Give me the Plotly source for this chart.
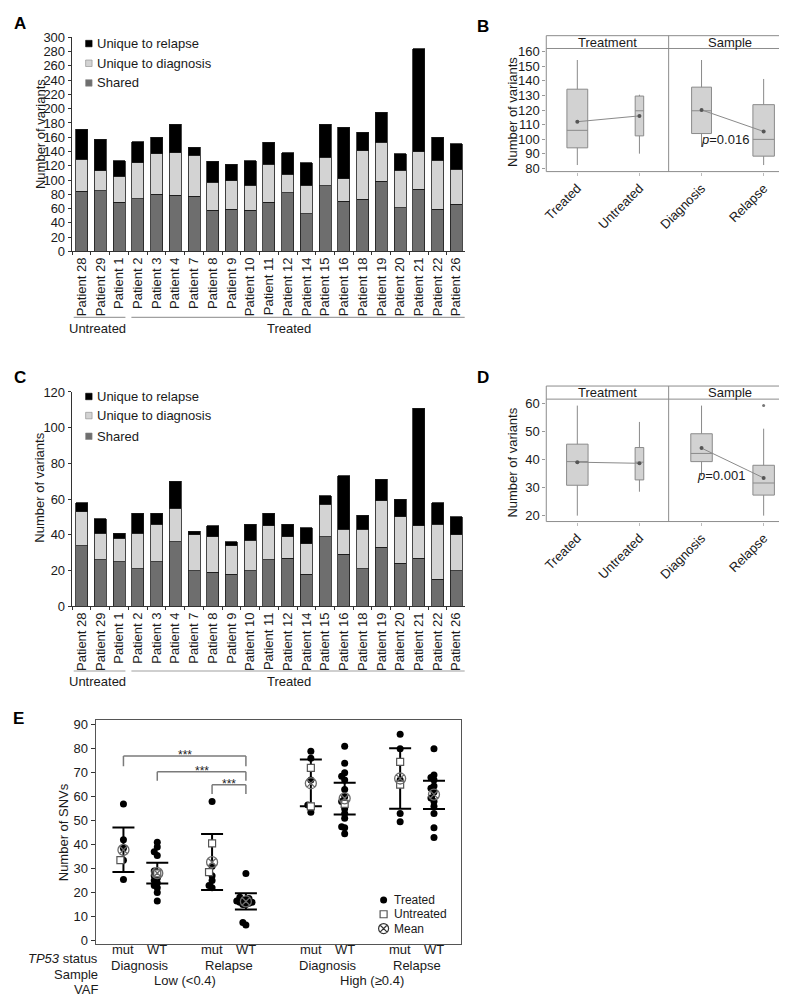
import plotly.graph_objects as go

# ---------------- DATA ----------------
patients = ["Patient 28", "Patient 29", "Patient 1", "Patient 2", "Patient 3", "Patient 4",
            "Patient 7", "Patient 8", "Patient 9", "Patient 10", "Patient 11", "Patient 12",
            "Patient 14", "Patient 15", "Patient 16", "Patient 18", "Patient 19", "Patient 20",
            "Patient 21", "Patient 22", "Patient 26"]
n_untreated = 3
series_names = ["Shared", "Unique to diagnosis", "Unique to relapse"]

a_shared = [84, 85, 69, 74, 80, 79, 77, 58, 59, 58, 69, 82, 53, 92, 70, 73, 98, 61, 87, 59, 66]
a_diag = [45, 28, 36, 50, 57, 59, 58, 39, 40, 35, 53, 26, 40, 40, 32, 68, 55, 53, 53, 69, 49]
a_relapse = [42, 44, 22, 30, 23, 40, 11, 29, 23, 34, 31, 30, 31, 46, 72, 26, 42, 23, 144, 32, 36]

c_shared = [34, 26, 25, 21, 25, 36, 20, 19, 18, 20, 26, 27, 18, 39, 29, 21, 33, 24, 27, 15, 20]
c_diag = [19, 15, 13, 20, 21, 19, 20, 20, 16, 17, 19, 12, 17, 18, 14, 22, 26, 26, 18, 31, 20]
c_relapse = [5, 8, 3, 11, 6, 15, 2, 6, 2, 9, 7, 7, 9, 5, 30, 8, 12, 10, 66, 12, 10]

box_groups = ["Treated", "Untreated", "Diagnosis", "Relapse"]
facets = ["Treatment", "Sample"]

b_q1 = [94.1, 102.3, 103.9, 88.4]
b_med = [106.1, 119.5, 119.5, 99.9]
b_q3 = [134.3, 129.6, 135.7, 123.7]
b_lo = [82.3, 90.1, 94.7, 82.3]
b_hi = [154.3, 130.5, 154.3, 141.3]
b_mean = [112.0, 116.0, 120.1, 105.3]
b_p = "0.016"

d_q1 = [30.8, 32.7, 39.2, 27.3]
d_med = [39.2, 39.0, 42.1, 31.6]
d_q3 = [45.4, 44.2, 49.1, 37.9]
d_lo = [20.0, 28.5, 34.0, 20.0]
d_hi = [59.1, 53.3, 59.1, 50.9]
d_mean = [39.0, 38.6, 44.0, 33.4]
d_outlier_group = ["Relapse"]
d_outlier_val = [59.1]
d_p = "0.001"

e_tp53 = ["mut", "WT", "mut", "WT", "mut", "WT", "mut", "WT"]
e_sample = ["Diagnosis", "Relapse", "Diagnosis", "Relapse"]
e_vaf = ["Low (&lt;0.4)", "High (≥0.4)"]
e_treated = [
    [57, 42, 38.5, 33.5, 25.5],
    [41, 39, 37, 35.5, 29, 27, 26, 25, 24, 23, 22, 20, 16.5],
    [58, 31, 27, 25, 23, 22],
    [28, 18, 17.5, 17, 17, 16.5, 16, 16, 15.5, 15, 15, 7.5, 6.5],
    [79, 76, 67, 56.5, 53.5],
    [81, 74, 70, 68.5, 67, 63, 60, 58, 55, 53, 51, 47.5, 47, 44.5],
    [86, 80, 67, 53, 49.5],
    [80, 69, 68, 67, 64.5, 63.5, 62, 59.5, 58, 56, 53, 47, 43],
]
e_untreated = [[33.5], [28], [40.5, 28.5], [], [72, 56], [57], [74.5, 65], []]
e_mean = [37.8, 28.1, 32.7, 16.3, 65.6, 59.3, 67.6, 60.9]
e_err_hi = [47.1, 32.4, 44.4, 19.7, 75.5, 65.8, 80.2, 66.7]
e_err_lo = [28.6, 23.8, 21.1, 12.9, 56.0, 52.6, 55.0, 54.9]
e_legend = ["Treated", "Untreated", "Mean"]

# ---------------- LAYOUT HELPERS ----------------
W, H = 787, 997
FONT = "Liberation Sans, Arial, sans-serif"
TXT = "#1a1a1a"
SHARED_C, DIAG_C, REL_C = "#6e6e6e", "#d3d3d3", "#000000"
colors = [SHARED_C, DIAG_C, REL_C]


def px(p):
    return p / W


def py(p):
    return 1 - p / H


def xd(a, b):
    return [a / W, b / W]


def yd(top, bottom):
    return [1 - bottom / H, 1 - top / H]


# E axis geometry
E_X0, E_X1 = 84, 451
E_Y0, E_Y1 = 716, 943.3
E_XR = [-0.824, 9.97]
E_YR = [-1.5, 91.9]
e_pos = [0, 1, 2.62, 3.62, 5.54, 6.54, 8.18, 9.18]


def ex(p):
    return E_XR[0] + (p - E_X0) / (E_X1 - E_X0) * (E_XR[1] - E_XR[0])


def ey(p):
    return E_YR[0] + (E_Y1 - p) / (E_Y1 - E_Y0) * (E_YR[1] - E_YR[0])


def dodge(vals, thr=1.7, step=0.09):
    order = sorted(range(len(vals)), key=lambda i: vals[i])
    offs = [0.0] * len(vals)
    placed = []
    cands = [0, -1, 1, -2, 2, -3, 3]
    for i in order:
        used = {offs[j] for j in placed if abs(vals[j] - vals[i]) < thr}
        for c in cands:
            if c * step not in used:
                offs[i] = c * step
                break
        placed.append(i)
    return offs


fig = go.Figure()

# ---------------- A & C stacked bars ----------------
for ax, ay, data in [("x", "y", [a_shared, a_diag, a_relapse]),
                     ("x2", "y2", [c_shared, c_diag, c_relapse])]:
    for name, vals, col in zip(series_names, data, colors):
        fig.add_trace(go.Bar(x=patients, y=vals, name=name, xaxis=ax, yaxis=ay,
                             marker=dict(color=col, line=dict(color="#1a1a1a", width=0.8)),
                             showlegend=False))

# ---------------- B & D boxes ----------------
b_w = [0.335, 0.137, 0.32, 0.346]
d_w = [0.346, 0.139, 0.346, 0.346]
for ax, ay, q1, med, q3, lo, hi, mean, wid in [
        ("x3", "y3", b_q1, b_med, b_q3, b_lo, b_hi, b_mean, b_w),
        ("x4", "y4", d_q1, d_med, d_q3, d_lo, d_hi, d_mean, d_w)]:
    for i, g in enumerate(box_groups):
        fig.add_trace(go.Box(x=[g], q1=[q1[i]], median=[med[i]], q3=[q3[i]],
                             lowerfence=[lo[i]], upperfence=[hi[i]], orientation="v",
                             width=wid[i], whiskerwidth=0, boxpoints=False,
                             fillcolor="#d2d2d2", line=dict(color="#8a8a8a", width=1),
                             xaxis=ax, yaxis=ay, showlegend=False, hoverinfo="skip"))
    for k in (0, 2):
        fig.add_trace(go.Scatter(x=box_groups[k:k + 2], y=mean[k:k + 2], mode="lines+markers",
                                 line=dict(color="#8a8a8a", width=1),
                                 marker=dict(size=4, color="#555"),
                                 xaxis=ax, yaxis=ay, showlegend=False))
fig.add_trace(go.Scatter(x=d_outlier_group, y=d_outlier_val, mode="markers",
                         marker=dict(size=3, color="#777"), xaxis="x4", yaxis="y4",
                         showlegend=False))

# ---------------- E scatter ----------------
fig.add_trace(go.Scatter(
    x=e_pos, y=e_mean, mode="markers", marker=dict(size=1, opacity=0),
    error_y=dict(type="data", symmetric=False,
                 array=[h - m for h, m in zip(e_err_hi, e_mean)],
                 arrayminus=[m - l for l, m in zip(e_err_lo, e_mean)],
                 color="#000", thickness=2, width=11),
    xaxis="x5", yaxis="y5", showlegend=False))

tx, ty, ux, uy = [], [], [], []
for i in range(8):
    vals = e_treated[i] + e_untreated[i]
    offs = dodge(vals)
    nt = len(e_treated[i])
    for j, v in enumerate(vals):
        if j < nt:
            tx.append(e_pos[i] + offs[j]); ty.append(v)
        else:
            ux.append(e_pos[i] + offs[j]); uy.append(v)
fig.add_trace(go.Scatter(x=tx, y=ty, mode="markers", marker=dict(size=7, color="#000"),
                         xaxis="x5", yaxis="y5", showlegend=False))
fig.add_trace(go.Scatter(x=ux, y=uy, mode="markers",
                         marker=dict(symbol="square", size=7, color="white",
                                     line=dict(color="#555", width=1.2)),
                         xaxis="x5", yaxis="y5", showlegend=False))
fig.add_trace(go.Scatter(x=e_pos, y=e_mean, mode="markers",
                         marker=dict(symbol="circle-x-open", size=11, color="#6b6b6b",
                                     line=dict(width=1.3)),
                         xaxis="x5", yaxis="y5", showlegend=False))
# E legend markers
leg_y = [898.5, 913.0, 927.5]
fig.add_trace(go.Scatter(x=[ex(373.5)], y=[ey(leg_y[0])], mode="markers",
                         marker=dict(size=7, color="#000"), xaxis="x5", yaxis="y5", showlegend=False))
fig.add_trace(go.Scatter(x=[ex(373.5)], y=[ey(leg_y[1])], mode="markers",
                         marker=dict(symbol="square", size=7, color="white",
                                     line=dict(color="#555", width=1.2)),
                         xaxis="x5", yaxis="y5", showlegend=False))
fig.add_trace(go.Scatter(x=[ex(373.5)], y=[ey(leg_y[2])], mode="markers",
                         marker=dict(symbol="circle-x-open", size=10, color="#333",
                                     line=dict(width=1.2)),
                         xaxis="x5", yaxis="y5", showlegend=False))

# ---------------- axes ----------------
tf = dict(family=FONT, size=13, color=TXT)
bar_x = dict(type="category", range=[-0.53, 20.45], tickangle=-90, ticks="outside", ticklen=3,
             tickson="boundaries", showline=True, linecolor="#333", linewidth=1,
             tickcolor="#333", tickfont=tf, showgrid=False, zeroline=False)
bar_y = dict(ticks="outside", ticklen=3, showline=True, linecolor="#333", linewidth=1,
             tickcolor="#333", tickfont=tf, showgrid=False, zeroline=False, dtick=20)
box_x = dict(type="category", categoryorder="array", categoryarray=box_groups,
             range=[-0.5, 3.5], tickangle=-45, ticks="outside", ticklen=3, tickcolor="#bbb",
             showline=False, tickfont=tf, showgrid=False, zeroline=False)
box_y = dict(ticks="outside", ticklen=3, tickcolor="#999", showline=False, tickfont=tf,
             showgrid=False, zeroline=False, dtick=10)

fig.update_layout(
    width=W, height=H, margin=dict(l=0, r=0, t=0, b=0),
    paper_bgcolor="white", plot_bgcolor="white",
    barmode="stack", bargap=0.36, boxmode="overlay",
    font=dict(family=FONT, size=13, color=TXT),
    xaxis=dict(bar_x, domain=xd(60, 455), anchor="y"),
    yaxis=dict(bar_y, domain=yd(22.7, 240), anchor="x", range=[0, 300]),
    xaxis2=dict(bar_x, domain=xd(60, 455), anchor="y2"),
    yaxis2=dict(bar_y, domain=yd(382.7, 600.3), anchor="x2", range=[0, 120]),
    xaxis3=dict(box_x, domain=xd(537, 786.7), anchor="y3"),
    yaxis3=dict(box_y, domain=yd(34, 159), anchor="x3", range=[77.8, 162.2], tick0=80),
    xaxis4=dict(box_x, domain=xd(537, 786.7), anchor="y4"),
    yaxis4=dict(box_y, domain=yd(390, 514.3), anchor="x4", range=[17.9, 61.4], tick0=20),
    xaxis5=dict(domain=xd(E_X0, E_X1), anchor="y5", range=E_XR, showticklabels=False,
                ticks="", showline=True, mirror=True, linecolor="#555", linewidth=1,
                showgrid=False, zeroline=False),
    yaxis5=dict(domain=yd(E_Y0, E_Y1), anchor="x5", range=E_YR, dtick=10, tick0=0,
                ticks="outside", ticklen=4, tickcolor="#333", showline=True, mirror=True,
                linecolor="#555", linewidth=1, tickfont=tf, showgrid=False, zeroline=False),
)

shapes = []
ann = []


def pline(x0, y0, x1, y1, color="#999", width=1.0):
    shapes.append(dict(type="line", xref="paper", yref="paper", x0=px(x0), y0=py(y0),
                       x1=px(x1), y1=py(y1), line=dict(color=color, width=width)))


def ptext(x, y, text, size=13, xanchor="center", yanchor="middle", angle=0, bold=False):
    ann.append(dict(xref="paper", yref="paper", x=px(x), y=py(y), text=text, showarrow=False,
                    xanchor=xanchor, yanchor=yanchor, textangle=angle,
                    font=dict(family=FONT, size=size, color="#000" if bold else TXT,
                              weight="bold" if bold else "normal")))


# panel letters
for letter, (x, y) in zip("ABCDE", [(8, 9), (473, 12), (8, 368), (473, 368), (7, 714)]):
    ptext(x, y, letter, size=17, bold=True)

# A & C: legends, y titles, group lines
for leg_ys, ytitle_y, line_y, lab_y in [([29, 49, 69], 121, 307, 318),
                                        ([387.3, 406.7, 427.7], 480, 666, 676.5)]:
    for name, col, yy in zip(series_names[::-1], colors[::-1], leg_ys):
        shapes.append(dict(type="rect", xref="paper", yref="paper",
                           x0=px(74), x1=px(80.5), y0=py(yy - 3.3), y1=py(yy + 3.3),
                           fillcolor=col, line=dict(color="#888" if col != REL_C else "#000",
                                                    width=0.6)))
        ptext(83, yy, name, xanchor="left")
    ptext(28, ytitle_y, "Number of variants", angle=-90)
    pline(62, line_y, 114, line_y, color="#a0a0a0", width=1.2)
    pline(120, line_y, 455, line_y, color="#a0a0a0", width=1.2)
    ptext(86, lab_y, "Untreated")
    ptext(278, lab_y, "Treated")

# B & D frames, strips
for top, strip_b, bottom, ytitle_y, ptxt, p_xy in [(21, 34, 159, 98, b_p, (743, 126)),
                                                   (376.7, 390, 514.3, 454, d_p, (739, 468))]:
    shapes.append(dict(type="rect", xref="paper", yref="paper", x0=px(537), x1=px(786.5),
                       y0=py(bottom), y1=py(top), line=dict(color="#8c8c8c", width=1)))
    pline(537, strip_b, 786.5, strip_b, color="#8c8c8c")
    pline(660, top, 660, bottom, color="#8c8c8c")
    ptext(599, (top + strip_b) / 2, facets[0], size=13)
    ptext(722, (top + strip_b) / 2, facets[1], size=13)
    ptext(503, ytitle_y, "Number of variants", angle=-90)
    ptext(p_xy[0], p_xy[1], "<i>p</i>=" + ptxt, xanchor="right")

# E: y title, rows, legend text, significance brackets
ptext(52, 830, "Number of SNVs", angle=-90)
row_y = [958.3, 974.3, 989.5]
ptext(88, row_y[0], "<i>TP53</i> status", xanchor="right")
ptext(88, row_y[1], "Sample", xanchor="right")
ptext(88, row_y[2], "VAF", xanchor="right")
for i, t in enumerate(e_tp53):
    ann.append(dict(xref="x5", yref="paper", x=e_pos[i], y=py(row_y[0]), text=t,
                    showarrow=False, font=tf))
for k, t in enumerate(e_sample):
    ann.append(dict(xref="x5", yref="paper", x=(e_pos[2 * k] + e_pos[2 * k + 1]) / 2,
                    y=py(row_y[1]), text=t, showarrow=False, font=tf))
for k, t in enumerate(e_vaf):
    ann.append(dict(xref="x5", yref="paper", x=(e_pos[4 * k] + e_pos[4 * k + 3]) / 2,
                    y=py(row_y[2]), text=t, showarrow=False, font=tf))
for t, yy in zip(e_legend, leg_y):
    ptext(381.5, yy, t, size=12, xanchor="left")

brackets = [(0, 3, 77.0, 72.7), (1, 3, 70.4, 66.6), (2, 3, 65.0, 61.1)]
for i0, i1, ytop, yleg in brackets:
    for (xa, ya, xb, yb) in [(e_pos[i0], yleg, e_pos[i0], ytop),
                             (e_pos[i0], ytop, e_pos[i1], ytop),
                             (e_pos[i1], ytop, e_pos[i1], yleg)]:
        shapes.append(dict(type="line", xref="x5", yref="y5", x0=xa, y0=ya, x1=xb, y1=yb,
                           line=dict(color="#7a7a7a", width=1.5)))
    ann.append(dict(xref="x5", yref="y5", x=(e_pos[i0] + e_pos[i1]) / 2, y=ytop,
                    text="***", showarrow=False, yanchor="middle", yshift=1,
                    font=dict(family=FONT, size=12, color=TXT)))

fig.update_layout(shapes=shapes, annotations=ann)
fig.write_html("out.html")
